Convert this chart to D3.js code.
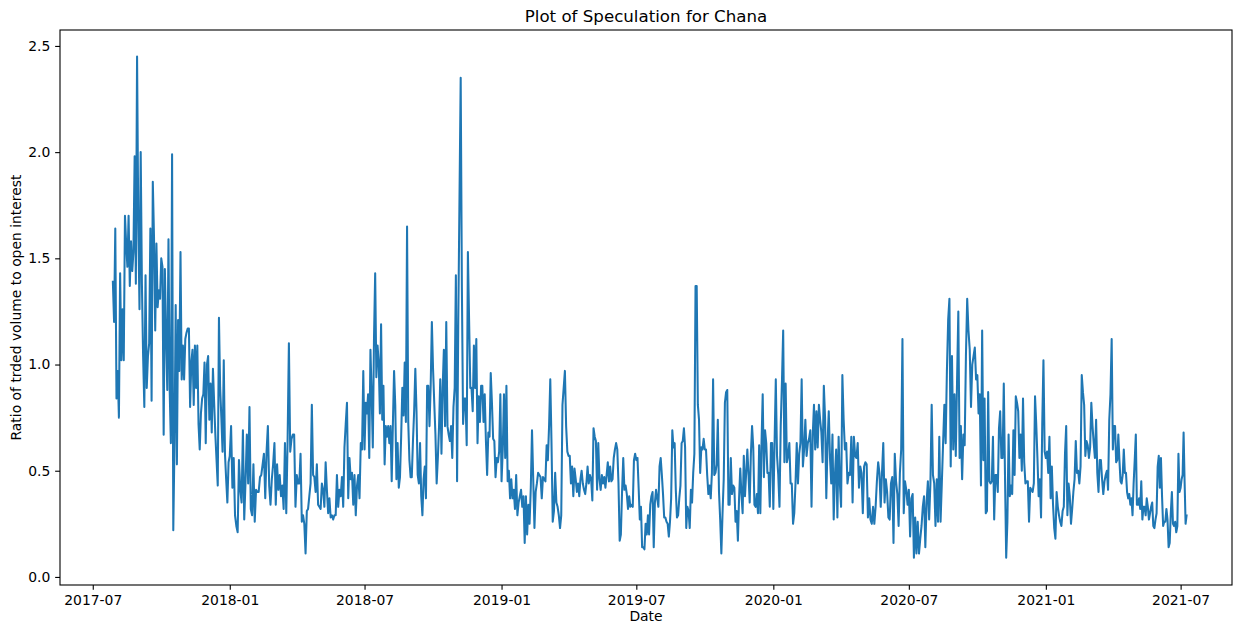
<!DOCTYPE html>
<html>
<head>
<meta charset="utf-8">
<script src="https://cdn.jsdelivr.net/npm/d3@7"></script>
<style>
  html, body { margin: 0; padding: 0; background: #ffffff; }
  svg { display: block; }
  text { font-family: "DejaVu Sans", sans-serif; fill: #000; }
</style>
</head>
<body>
<svg id="chart" width="1239" height="625"></svg>
<script>
// ---- Data, one array per quarter ----
const q2017Q3 = [1.39,1.20,1.64,0.84,0.97,0.75,1.43,1.02,1.26,1.02,1.70,1.57,1.46,1.70,1.37,1.58,1.44,1.53,1.98,1.38,2.45,1.67,1.26,2.00,1.38,1.04,0.80,1.42,0.89,1.04,1.10,1.64,0.83,1.86,1.60,1.16,1.57,1.27,1.35,1.31];
const q2017Q4 = [1.50,1.46,0.67,1.45,1.13,0.88,1.59,0.88,0.63,1.99,0.22,0.63,1.28,0.53,1.21,0.97,1.53,0.93,1.09,0.93,1.12,1.15,1.17,1.17,0.80,1.01,1.07,0.81,1.09,0.89,1.09,0.72,0.60,0.77,0.84,0.86,1.01,0.63,1.00,1.04,0.74,0.91,0.68,0.98,0.82,0.67,0.55,0.43,1.22,0.89,0.75,0.59,1.02,0.58,0.46,0.35,0.54];
const q2018Q1 = [0.57,0.71,0.42,0.56,0.29,0.24,0.21,0.55,0.41,0.35,0.69,0.27,0.45,0.67,0.44,0.80,0.32,0.29,0.53,0.26,0.41,0.40,0.40,0.47,0.48,0.53,0.58,0.37,0.59,0.71,0.43,0.34,0.46,0.53,0.63,0.34,0.53,0.41,0.48,0.38,0.43,0.32,0.63,0.30,0.64,1.10,0.59,0.65,0.67,0.67,0.33];
const q2018Q2 = [0.48,0.44,0.44,0.58,0.26,0.29,0.25,0.11,0.31,0.32,0.38,0.44,0.81,0.48,0.47,0.40,0.53,0.34,0.33,0.32,0.44,0.41,0.33,0.54,0.41,0.30,0.37,0.28,0.29,0.27,0.29,0.29,0.48,0.33,0.41,0.38,0.47,0.33,0.61,0.72,0.82,0.37,0.56,0.46,0.49,0.34,0.48,0.29,0.43,0.48,0.37,0.63,0.60,0.97];
const q2018Q3 = [0.60,0.82,0.77,0.86,0.56,1.07,0.86,0.61,1.12,1.43,0.94,1.09,1.01,0.77,1.19,0.74,0.90,0.53,0.71,0.66,0.71,0.63,0.71,0.45,0.72,0.97,0.81,0.46,0.63,0.42,0.47,0.66,0.89,0.76,1.01,0.73,1.65,0.73,0.55,0.47,0.47,0.64,0.78,0.98,0.78,0.48,0.44,0.63,0.38,0.29,0.46,0.52,0.37,0.90,0.90,0.71,0.90,1.20];
const q2018Q4 = [0.98,0.82,0.67,0.44,0.56,0.71,0.93,0.58,0.89,1.07,0.71,1.20,0.71,0.67,0.64,0.71,0.56,0.80,0.89,1.42,0.45,1.21,1.78,2.35,1.36,0.72,0.84,0.84,0.62,1.53,1.21,0.89,0.89,0.78,1.09,0.89,1.12,0.63,0.85,0.73,0.90,0.90,0.73,0.86,0.64,0.48,0.68,0.66,0.96,0.82,0.65,0.64,0.47,0.56,0.54,0.59,0.86];
const q2019Q1 = [0.45,0.60,0.86,0.56,0.90,0.45,0.50,0.37,0.46,0.37,0.41,0.32,0.48,0.29,0.35,0.38,0.41,0.33,0.38,0.16,0.38,0.20,0.34,0.25,0.42,0.69,0.46,0.23,0.40,0.44,0.49,0.48,0.47,0.37,0.47,0.46,0.45,0.62,0.55,0.71,0.93,0.63,0.26,0.31,0.49,0.35,0.33,0.29,0.23,0.29,0.81,0.89,0.97,0.71,0.59];
const q2019Q2 = [0.57,0.57,0.44,0.52,0.38,0.51,0.46,0.40,0.44,0.38,0.46,0.50,0.44,0.41,0.39,0.44,0.52,0.44,0.48,0.46,0.36,0.70,0.66,0.64,0.41,0.63,0.46,0.41,0.48,0.44,0.47,0.42,0.48,0.54,0.45,0.52,0.45,0.46,0.56,0.60,0.63,0.60,0.44,0.17,0.20,0.40,0.56,0.41,0.43,0.39,0.32,0.38,0.33,0.34,0.33,0.55,0.58];
const q2019Q3 = [0.55,0.56,0.42,0.27,0.33,0.14,0.14,0.13,0.25,0.20,0.29,0.20,0.34,0.38,0.40,0.14,0.35,0.41,0.37,0.33,0.52,0.56,0.48,0.39,0.28,0.28,0.26,0.25,0.19,0.26,0.37,0.69,0.61,0.63,0.41,0.28,0.29,0.37,0.43,0.63,0.64,0.70,0.61,0.23,0.33,0.31,0.23,0.41,0.35,0.49,0.58,1.37,1.37,0.81,0.74,0.49,0.61,0.60,0.65];
const q2019Q4 = [0.60,0.60,0.48,0.39,0.43,0.37,0.49,0.93,0.48,0.49,0.53,0.74,0.40,0.27,0.11,0.30,0.46,0.82,0.87,0.88,0.34,0.34,0.56,0.39,0.43,0.42,0.26,0.31,0.17,0.37,0.51,0.39,0.30,0.57,0.38,0.49,0.60,0.48,0.35,0.58,0.71,0.61,0.34,0.33,0.39,0.30,0.62,0.30,0.63,0.86,0.47,0.69,0.63,0.49,0.49,0.33,0.63,0.63];
const q2020Q1 = [0.32,0.63,0.93,0.57,0.48,0.33,0.71,0.92,1.16,0.54,0.91,0.54,0.57,0.63,0.44,0.44,0.25,0.30,0.44,0.63,0.44,0.58,0.63,0.93,0.52,0.60,0.74,0.57,0.63,0.65,0.69,0.33,0.67,0.81,0.60,0.78,0.61,0.81,0.74,0.68,0.54,0.90,0.75,0.37,0.63,0.78,0.56,0.44,0.67,0.27,0.48,0.60,0.28,0.66,0.44];
const q2020Q2 = [0.33,0.95,0.74,0.60,0.63,0.44,0.49,0.48,0.66,0.35,0.66,0.57,0.56,0.63,0.42,0.52,0.49,0.30,0.52,0.54,0.53,0.28,0.37,0.27,0.25,0.33,0.25,0.33,0.45,0.54,0.49,0.33,0.49,0.63,0.35,0.46,0.40,0.28,0.27,0.44,0.47,0.16,0.58,0.45,0.39,0.24,0.49,0.60,1.12,0.30,0.45,0.41,0.34];
const q2020Q3 = [0.41,0.19,0.37,0.39,0.09,0.28,0.11,0.26,0.11,0.18,0.24,0.33,0.38,0.14,0.35,0.45,0.27,0.44,0.81,0.48,0.44,0.24,0.46,0.26,0.66,0.26,0.44,0.63,0.81,0.63,0.97,1.21,1.31,0.52,1.04,0.60,0.86,0.57,0.92,1.25,0.56,0.71,0.46,0.67,0.62,1.04,1.31,1.16,1.07,0.80,1.00,1.04,1.08,0.93];
const q2020Q4 = [0.95,0.77,0.86,0.43,1.16,0.55,0.84,0.30,0.31,0.87,0.45,0.44,0.45,0.66,0.27,0.48,0.48,0.40,0.70,0.78,0.56,0.56,0.91,0.48,0.09,0.26,0.67,0.38,0.43,0.39,0.69,0.48,0.85,0.82,0.78,0.56,0.67,0.50,0.84,0.54,0.44,0.45,0.45,0.26,0.42,0.41,0.40,0.44,0.85,0.72,0.56,0.38,0.46,0.28,0.72,1.02,0.59];
const q2021Q1 = [0.56,0.59,0.49,0.66,0.37,0.52,0.34,0.23,0.18,0.40,0.33,0.29,0.26,0.24,0.31,0.33,0.58,0.71,0.29,0.44,0.38,0.25,0.32,0.40,0.46,0.64,0.49,0.50,0.44,0.52,0.95,0.87,0.81,0.57,0.64,0.62,0.56,0.61,0.82,0.71,0.63,0.56,0.74,0.49,0.40,0.55,0.55,0.46,0.39,0.45,0.48,0.50,0.41,0.74,0.86,1.12];
const q2021Q2 = [0.60,0.71,0.71,0.54,0.55,0.67,0.55,0.45,0.44,0.48,0.60,0.49,0.49,0.40,0.37,0.39,0.34,0.37,0.29,0.44,0.55,0.67,0.34,0.34,0.37,0.32,0.45,0.27,0.33,0.33,0.29,0.37,0.33,0.27,0.30,0.33,0.35,0.24,0.23,0.27,0.30,0.52,0.57,0.42,0.56,0.38,0.24,0.26,0.26,0.32,0.27,0.14,0.16,0.30,0.40,0.25,0.24,0.26,0.21,0.24,0.58,0.40];
const q2021Q3 = [0.42,0.46,0.48,0.68,0.45,0.25,0.29];

// Quarter segments: [values, first date, boundary date]
const segments = [
  [q2017Q3, "2017-07-28", "2017-10-01"],
  [q2017Q4, "2017-10-01", "2018-01-01"],
  [q2018Q1, "2018-01-01", "2018-04-01"],
  [q2018Q2, "2018-04-01", "2018-07-01"],
  [q2018Q3, "2018-07-01", "2018-10-01"],
  [q2018Q4, "2018-10-01", "2019-01-01"],
  [q2019Q1, "2019-01-01", "2019-04-01"],
  [q2019Q2, "2019-04-01", "2019-07-01"],
  [q2019Q3, "2019-07-01", "2019-10-01"],
  [q2019Q4, "2019-10-01", "2020-01-01"],
  [q2020Q1, "2020-01-01", "2020-04-01"],
  [q2020Q2, "2020-04-01", "2020-07-01"],
  [q2020Q3, "2020-07-01", "2020-10-01"],
  [q2020Q4, "2020-10-01", "2021-01-01"],
  [q2021Q1, "2021-01-01", "2021-04-01"],
  [q2021Q2, "2021-04-01", "2021-07-01"],
  [q2021Q3, "2021-07-01", "2021-07-09"]
];

const xTickLabels = ["2017-07","2018-01","2018-07","2019-01","2019-07","2020-01","2020-07","2021-01","2021-07"];
const yTickValues = [0.0, 0.5, 1.0, 1.5, 2.0, 2.5];

const titleText = "Plot of Speculation for Chana";
const xLabelText = "Date";
const yLabelText = "Ratio of trded volume to open interest";

// ---- Build point list ----
const points = [];
segments.forEach(([vals, s, e], si) => {
  const t0 = new Date(s + "T00:00:00Z").getTime();
  const t1 = new Date(e + "T00:00:00Z").getTime();
  const last = si === segments.length - 1;
  const step = (t1 - t0) / (last ? (vals.length - 1) : vals.length);
  vals.forEach((v, i) => points.push({ date: new Date(t0 + i * step), value: v }));
});

// ---- Layout ----
const svg = d3.select("#chart");
const L = 60, R = 1232, T = 30, B = 585;

const x = d3.scaleUtc()
  .domain([new Date("2017-05-18T00:00:00Z"), new Date("2021-09-08T00:00:00Z")])
  .range([L, R]);
const y = d3.scaleLinear()
  .domain([-0.038, 2.575])
  .range([B, T]);

svg.append("rect").attr("width", 1239).attr("height", 625).attr("fill", "#ffffff");

const tickLen = 4.86, tickPad = 4.86, fs = 13.9;

// x axis
const xTicks = xTickLabels.map(s => new Date(s + "-01T00:00:00Z"));
const xAxis = d3.axisBottom(x)
  .tickValues(xTicks)
  .tickFormat(d3.utcFormat("%Y-%m"))
  .tickSize(tickLen)
  .tickPadding(tickPad)
  .tickSizeOuter(0);
const gx = svg.append("g").attr("transform", `translate(0,${B})`).call(xAxis);
gx.select(".domain").remove();
gx.selectAll("text").attr("font-size", fs).attr("font-family", "DejaVu Sans").attr("fill", "#000");
gx.selectAll("line").attr("stroke", "#000").attr("stroke-width", 1.1);

// y axis
const yAxis = d3.axisLeft(y)
  .tickValues(yTickValues)
  .tickFormat(d3.format(".1f"))
  .tickSize(tickLen)
  .tickPadding(tickPad)
  .tickSizeOuter(0);
const gy = svg.append("g").attr("transform", `translate(${L},0)`).call(yAxis);
gy.select(".domain").remove();
gy.selectAll("text").attr("font-size", fs).attr("font-family", "DejaVu Sans").attr("fill", "#000");
gy.selectAll("line").attr("stroke", "#000").attr("stroke-width", 1.1);

// line
const line = d3.line().x(d => x(d.date)).y(d => y(d.value));
svg.append("path")
  .datum(points)
  .attr("fill", "none")
  .attr("stroke", "#1f77b4")
  .attr("stroke-width", 2.05)
  .attr("stroke-linejoin", "round")
  .attr("stroke-linecap", "square")
  .attr("d", line);

// spines
svg.append("rect")
  .attr("x", L).attr("y", T)
  .attr("width", R - L).attr("height", B - T)
  .attr("fill", "none").attr("stroke", "#000").attr("stroke-width", 1.1);

// title and labels
svg.append("text")
  .attr("x", (L + R) / 2).attr("y", T - 8.3)
  .attr("text-anchor", "middle")
  .attr("font-size", 16.67)
  .text(titleText);

svg.append("text")
  .attr("x", (L + R) / 2).attr("y", 621)
  .attr("text-anchor", "middle")
  .attr("font-size", fs)
  .text(xLabelText);

svg.append("text")
  .attr("transform", `translate(21,${(T + B) / 2}) rotate(-90)`)
  .attr("text-anchor", "middle")
  .attr("font-size", fs)
  .text(yLabelText);
</script>
</body>
</html>
